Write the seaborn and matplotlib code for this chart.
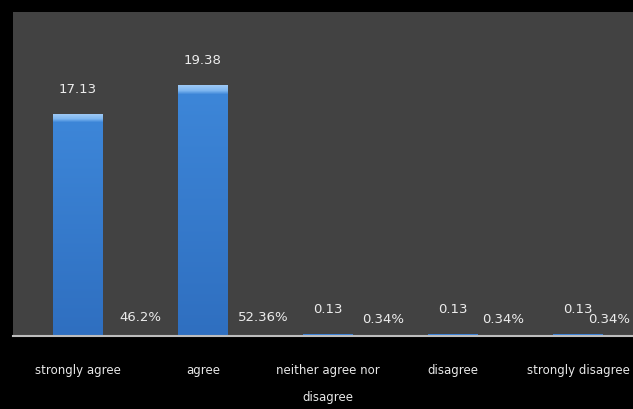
import matplotlib
matplotlib.use("Agg")
import matplotlib.pyplot as plt
import seaborn as sns
import pandas as pd
import numpy as np
from matplotlib.colors import LinearSegmentedColormap

categories = ["strongly agree", "agree", "neither agree nor\ndisagree", "disagree", "strongly disagree"]
counts = [17.13, 19.38, 0.13, 0.13, 0.13]
percents = ["46.2%", "52.36%", "0.34%", "0.34%", "0.34%"]
pct_values = [46.2, 52.36, 0.34, 0.34, 0.34]

df = pd.DataFrame({"category": categories, "count": counts})

sns.set_theme(style="dark")
plt.rcParams["font.family"] = ["DejaVu Sans"]

fig = plt.figure(figsize=(6.33, 4.09), dpi=100, facecolor="black")
ax = fig.add_axes([13 / 633, (409 - 336) / 409, 620 / 633, (336 - 12) / 409])
ax.set_facecolor("#424242")

sns.barplot(data=df, x="category", y="count", color="#3a80d8", width=0.4,
            saturation=1, ax=ax, edgecolor="none")

ax.set_xlim(-0.52, 4.44)
ax.set_ylim(0, 25.05)

# vertical gradient fill for bars
cmap = LinearSegmentedColormap.from_list(
    "barg", [(0.0, "#2f6fc0"), (0.965, "#3d86d8"), (0.98, "#7db6f0"), (1.0, "#9cc8f5")])
grad = np.linspace(0, 1, 256).reshape(-1, 1)
for p in ax.patches:
    x0, w, h = p.get_x(), p.get_width(), p.get_height()
    if h > 1:
        im = ax.imshow(grad, extent=[x0, x0 + w, 0, h], origin="lower", aspect="auto",
                       cmap=cmap, zorder=p.get_zorder() + 0.1)
        im.set_clip_path(p)
ax.set_xlim(-0.52, 4.44)
ax.set_ylim(0, 25.05)

txt_kw = dict(color="#ececec", fontsize=9.5, ha="center", va="center")
for i, v in enumerate(counts):
    ax.text(i, v + 1.95, f"{v:g}", **txt_kw)

pct_x = [0.50, 1.48, 2.44, 3.40, 4.25]
pct_y = [1.4, 1.4, 1.25, 1.25, 1.3]
for xx, yy, s in zip(pct_x, pct_y, percents):
    ax.text(xx, yy, s, **txt_kw)

ax.set_xlabel("")
ax.set_ylabel("")
ax.set_yticks([])
ax.tick_params(axis="x", length=0, pad=20, labelsize=8.5, colors="#e8e8e8")
for lab in ax.get_xticklabels():
    lab.set_linespacing(2.4)
for s in ["top", "right", "left"]:
    ax.spines[s].set_visible(False)
ax.spines["bottom"].set_visible(True)
ax.spines["bottom"].set_color("#bdbdbd")
ax.spines["bottom"].set_linewidth(1.5)
ax.grid(False)

fig.savefig("out.png", dpi=100, facecolor="black")
